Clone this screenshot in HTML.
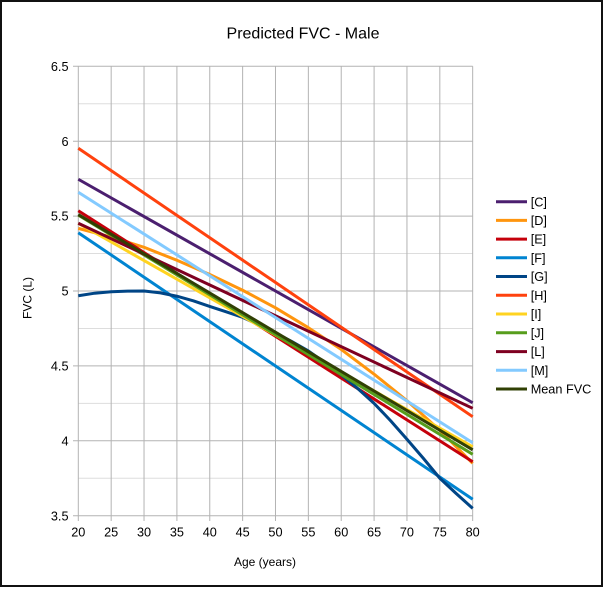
<!DOCTYPE html>
<html>
<head>
<meta charset="utf-8">
<style>
  html,body{margin:0;padding:0;background:#fff;}
  body{width:605px;height:589px;overflow:hidden;position:relative;}
  .frame{position:absolute;left:0;top:0;width:603px;height:587px;box-sizing:border-box;border:2px solid #111;}
  svg{position:absolute;left:0;top:0;}
  text{font-family:"Liberation Sans",Arial,sans-serif;fill:#000;}
</style>
</head>
<body>
<div class="frame"></div>
<svg width="605" height="589" viewBox="0 0 605 589" xmlns="http://www.w3.org/2000/svg">
  <!-- title -->
  <text x="303" y="38.7" font-size="16" text-anchor="middle">Predicted FVC - Male</text>

  <!-- minor horizontal gridlines -->
  <g stroke="#dddddd" stroke-width="1">
    <line x1="78.3" x2="472.7" y1="103.75" y2="103.75"/>
    <line x1="78.3" x2="472.7" y1="178.65" y2="178.65"/>
    <line x1="78.3" x2="472.7" y1="253.55" y2="253.55"/>
    <line x1="78.3" x2="472.7" y1="328.45" y2="328.45"/>
    <line x1="78.3" x2="472.7" y1="403.35" y2="403.35"/>
    <line x1="78.3" x2="472.7" y1="478.25" y2="478.25"/>
  </g>
  <!-- major horizontal gridlines (with outer ticks) -->
  <g stroke="#b3b3b3" stroke-width="1">
    <line x1="73" x2="472.7" y1="66.3" y2="66.3"/>
    <line x1="73" x2="472.7" y1="141.2" y2="141.2"/>
    <line x1="73" x2="472.7" y1="216.1" y2="216.1"/>
    <line x1="73" x2="472.7" y1="291" y2="291"/>
    <line x1="73" x2="472.7" y1="365.9" y2="365.9"/>
    <line x1="73" x2="472.7" y1="440.8" y2="440.8"/>
    <line x1="73" x2="472.7" y1="515.7" y2="515.7"/>
  </g>
  <!-- vertical gridlines -->
  <g stroke="#b3b3b3" stroke-width="1">
    <line x1="78.3" x2="78.3" y1="66.3" y2="521"/>
    <line x1="111.17" x2="111.17" y1="66.3" y2="521"/>
    <line x1="144.03" x2="144.03" y1="66.3" y2="521"/>
    <line x1="176.9" x2="176.9" y1="66.3" y2="521"/>
    <line x1="209.76" x2="209.76" y1="66.3" y2="521"/>
    <line x1="242.63" x2="242.63" y1="66.3" y2="521"/>
    <line x1="275.49" x2="275.49" y1="66.3" y2="521"/>
    <line x1="308.36" x2="308.36" y1="66.3" y2="521"/>
    <line x1="341.22" x2="341.22" y1="66.3" y2="521"/>
    <line x1="374.09" x2="374.09" y1="66.3" y2="521"/>
    <line x1="406.95" x2="406.95" y1="66.3" y2="521"/>
    <line x1="439.82" x2="439.82" y1="66.3" y2="521"/>
    <line x1="472.68" x2="472.68" y1="66.3" y2="521"/>
  </g>

  <!-- y tick labels -->
  <g font-size="12.7" text-anchor="end">
    <text x="68.5" y="70.9">6.5</text>
    <text x="68.5" y="145.8">6</text>
    <text x="68.5" y="220.7">5.5</text>
    <text x="68.5" y="295.6">5</text>
    <text x="68.5" y="370.5">4.5</text>
    <text x="68.5" y="445.4">4</text>
    <text x="68.5" y="520.3">3.5</text>
  </g>
  <!-- x tick labels -->
  <g font-size="12.7" text-anchor="middle">
    <text x="78.3" y="536.7">20</text>
    <text x="111.17" y="536.7">25</text>
    <text x="144.03" y="536.7">30</text>
    <text x="176.9" y="536.7">35</text>
    <text x="209.76" y="536.7">40</text>
    <text x="242.63" y="536.7">45</text>
    <text x="275.49" y="536.7">50</text>
    <text x="308.36" y="536.7">55</text>
    <text x="341.22" y="536.7">60</text>
    <text x="374.09" y="536.7">65</text>
    <text x="406.95" y="536.7">70</text>
    <text x="439.82" y="536.7">75</text>
    <text x="472.68" y="536.7">80</text>
  </g>

  <!-- axis titles -->
  <text x="265" y="566" font-size="12" text-anchor="middle">Age (years)</text>
  <text transform="translate(31.7,298) rotate(-90)" font-size="12" text-anchor="middle">FVC (L)</text>

  <!-- series -->
  <g fill="none" stroke-width="3" stroke-linejoin="round" stroke-linecap="butt">
    <!-- C -->
    <line x1="78.3" y1="179.25" x2="472.68" y2="402.75" stroke="#4b1f6f"/>
    <!-- D -->
    <polyline stroke="#ff950e" points="78.3,228.38 111.17,237.07 144.03,247.26 176.9,260.29 209.76,274.52 242.63,290.25 275.49,307.78 308.36,327.7 341.22,349.42 374.09,374.14 406.95,400.65 439.82,430.31 472.68,463.27"/>
    <!-- E -->
    <line x1="78.3" y1="210.71" x2="472.68" y2="461.77" stroke="#c5000b"/>
    <!-- F -->
    <line x1="78.3" y1="232.73" x2="472.68" y2="499.22" stroke="#0084d1"/>
    <!-- G -->
    <polyline stroke="#004586" points="78.3,295.79 94.7,293.2 111.17,291.75 127.6,291.1 144.03,291.0 160.5,292.9 176.9,296.24 193.3,300.8 209.76,306.43 226.2,311.8 242.63,317.36 259.1,324.8 275.49,332.94 291.9,341.6 308.36,350.92 324.8,362.5 341.22,374.89 357.7,388.5 374.09,403.35 390.5,420.6 406.95,439.3 423.4,458.4 439.82,478.25 456.3,493.6 472.68,508.36"/>
    <!-- H -->
    <line x1="78.3" y1="148.24" x2="472.68" y2="416.68" stroke="#ff420e"/>
    <!-- I -->
    <line x1="78.3" y1="223.29" x2="472.68" y2="446.79" stroke="#ffd320"/>
    <!-- J -->
    <line x1="78.3" y1="215.05" x2="472.68" y2="454.28" stroke="#579d1c"/>
    <!-- L -->
    <line x1="78.3" y1="223.29" x2="472.68" y2="408.3" stroke="#7e0021"/>
    <!-- M -->
    <line x1="78.3" y1="192.28" x2="472.68" y2="442.74" stroke="#83caff"/>
    <!-- Mean FVC -->
    <line x1="78.3" y1="214.6" x2="472.68" y2="449.79" stroke="#314004"/>
  </g>

  <!-- legend -->
  <g stroke-width="3">
    <line x1="496" x2="527" y1="201.7" y2="201.7" stroke="#4b1f6f"/>
    <line x1="496" x2="527" y1="220.4" y2="220.4" stroke="#ff950e"/>
    <line x1="496" x2="527" y1="239.1" y2="239.1" stroke="#c5000b"/>
    <line x1="496" x2="527" y1="257.8" y2="257.8" stroke="#0084d1"/>
    <line x1="496" x2="527" y1="276.5" y2="276.5" stroke="#004586"/>
    <line x1="496" x2="527" y1="295.3" y2="295.3" stroke="#ff420e"/>
    <line x1="496" x2="527" y1="314" y2="314" stroke="#ffd320"/>
    <line x1="496" x2="527" y1="332.8" y2="332.8" stroke="#579d1c"/>
    <line x1="496" x2="527" y1="351.6" y2="351.6" stroke="#7e0021"/>
    <line x1="496" x2="527" y1="370.3" y2="370.3" stroke="#83caff"/>
    <line x1="496" x2="527" y1="389" y2="389" stroke="#314004"/>
  </g>
  <g font-size="12.7">
    <text x="530.7" y="206.3">[C]</text>
    <text x="530.7" y="225">[D]</text>
    <text x="530.7" y="243.7">[E]</text>
    <text x="530.7" y="262.4">[F]</text>
    <text x="530.7" y="281.1">[G]</text>
    <text x="530.7" y="299.9">[H]</text>
    <text x="530.7" y="318.6">[I]</text>
    <text x="530.7" y="337.4">[J]</text>
    <text x="530.7" y="356.2">[L]</text>
    <text x="530.7" y="374.9">[M]</text>
    <text x="530.7" y="393.6">Mean FVC</text>
  </g>
</svg>
</body>
</html>
